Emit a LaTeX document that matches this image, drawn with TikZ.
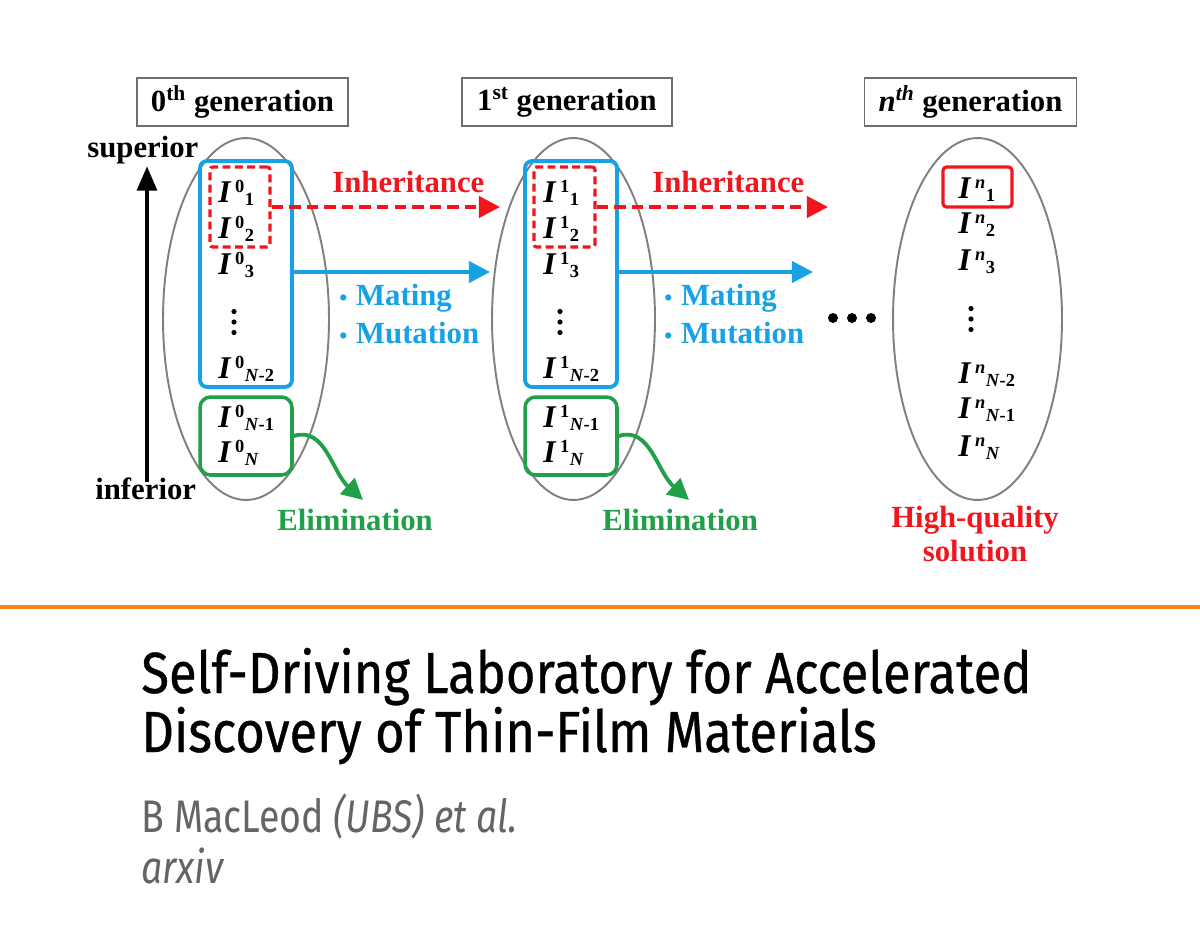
\documentclass[tikz,border=0pt]{standalone}
\usepackage{fontspec}
\setmainfont{Liberation Serif}
\newfontfamily\titlefont[FakeStretch=0.875,FakeBold=0.6]{Fira Sans}
\newfontfamily\authfont[FakeStretch=0.82]{Fira Sans}
\usetikzlibrary{arrows.meta,shapes.geometric}
\definecolor{gblue}{RGB}{22,162,228}
\definecolor{gred}{RGB}{240,22,30}
\definecolor{ggreen}{RGB}{32,160,72}
\definecolor{ggray}{RGB}{128,128,128}
\definecolor{lgray}{RGB}{110,110,110}
\definecolor{orng}{RGB}{245,132,30}
\definecolor{authgray}{RGB}{100,100,100}
\newcommand{\Ind}[2]{\textbf{\textit{I}}\kern2pt\raisebox{5.5pt}{\fontsize{10.5}{11}\selectfont\bfseries #1}\kern0.3pt\raisebox{-2.2pt}{\fontsize{10.5}{11}\selectfont\bfseries #2}}
\newcommand{\blt}{{\fontsize{13}{13}\selectfont•}\hspace{5pt}}
\tikzset{
  gen/.style={draw=lgray, line width=0.9pt, inner sep=0pt, minimum height=0.96cm, font=\fontsize{17.5}{20}\selectfont\bfseries},
  popul/.style={draw=ggray, line width=1.1pt, ellipse, inner sep=0pt, minimum height=7.24cm},
  bluebox/.style={draw=gblue, line width=2.2pt, rounded corners=4pt, minimum width=1.84cm, minimum height=4.52cm, inner sep=0pt},
  greenbox/.style={draw=ggreen, line width=2pt, rounded corners=6pt, minimum width=1.84cm, minimum height=1.56cm, inner sep=0pt},
  redbox/.style={draw=gred, line width=1.8pt, dash pattern=on 4.5pt off 2.5pt, rounded corners=1.5pt, minimum height=1.6cm, inner sep=0pt},
  entry/.style={anchor=base west, inner sep=0pt, font=\fontsize{18}{20}\selectfont},
  lbl/.style={anchor=base west, inner sep=0pt, font=\fontsize{17.5}{20}\selectfont\bfseries},
  redarrow/.style={draw=gred, line width=2.2pt, dash pattern=on 6.5pt off 3.5pt, -{Triangle[length=12pt,width=12pt,fill=gred]}},
  bluearrow/.style={draw=gblue, line width=2.2pt, -{Triangle[length=12pt,width=12pt]}},
  greenarrow/.style={draw=ggreen, line width=2.2pt, -{Triangle[length=12pt,width=12pt]}},
}
\newcommand{\vdotsat}[2]{\fill (#1,#2-10.5) circle (2.6); \fill (#1,#2) circle (2.6); \fill (#1,#2+10.5) circle (2.6);}
\begin{document}
\begin{tikzpicture}[x=0.02cm,y=-0.02cm]
\useasboundingbox[fill=white] (0,0) rectangle (1200,937);

% generation labels
\node[gen, minimum width=4.22cm] (g0) at (242.5,102) {0\textsuperscript{th} generation};
\node[gen, minimum width=4.2cm] (g1) at (567,102) {1\textsuperscript{st} generation};
\node[gen, minimum width=4.24cm] (gn) at (970.5,102) {\textit{n}\textsuperscript{\textit{th}} generation};

% superior / inferior
\node[lbl] (sup) at (87,157) {superior};
\node[lbl] (inf) at (95,499) {inferior};
\coordinate (abot) at (147,482);
\coordinate (atop) at (147,166);
\draw[line width=2.8pt, -{Triangle[length=14pt,width=11pt]}] (abot) -- (atop);

% populations
\node[popul, minimum width=3.32cm] (e0) at (246,319) {};
\node[popul, minimum width=3.26cm] (e1) at (573.5,319) {};
\node[popul, minimum width=3.38cm] (en) at (977.5,319) {};

% boxes gen 0
\node[bluebox] (b0) at (246,274) {};
\node[greenbox] (gr0) at (246,436) {};
\node[redbox, minimum width=1.2cm] (r0) at (240,207) {};
% boxes gen 1
\node[bluebox] (b1) at (571,274) {};
\node[greenbox] (gr1) at (571,436) {};
\node[redbox, minimum width=1.22cm] (r1) at (564.5,207) {};
% best gen n
\node[draw=gred, line width=1.8pt, rounded corners=2pt, minimum width=1.38cm, minimum height=0.8cm, inner sep=0pt] (rn) at (977.5,187) {};

% entries gen 0
\node[entry] (i01) at (218,202) {\Ind{0}{1}};
\node[entry] (i02) at (218,238) {\Ind{0}{2}};
\node[entry] (i03) at (218,274) {\Ind{0}{3}};
\vdotsat{234}{322}
\node[entry] (i0a) at (218,378) {\Ind{0}{\textit{N}-2}};
\node[entry] (i0b) at (218,427) {\Ind{0}{\textit{N}-1}};
\node[entry] (i0c) at (218,462) {\Ind{0}{\textit{N}}};
% entries gen 1
\node[entry] (i11) at (543,202) {\Ind{1}{1}};
\node[entry] (i12) at (543,238) {\Ind{1}{2}};
\node[entry] (i13) at (543,274) {\Ind{1}{3}};
\vdotsat{560}{322}
\node[entry] (i1a) at (543,378) {\Ind{1}{\textit{N}-2}};
\node[entry] (i1b) at (543,427) {\Ind{1}{\textit{N}-1}};
\node[entry] (i1c) at (543,462) {\Ind{1}{\textit{N}}};
% entries gen n
\node[entry] (in1) at (958,198) {\Ind{\textit{n}}{1}};
\node[entry] (in2) at (958,233) {\Ind{\textit{n}}{2}};
\node[entry] (in3) at (958,270) {\Ind{\textit{n}}{3}};
\vdotsat{971}{319}
\node[entry] (ina) at (958,383) {\Ind{\textit{n}}{\textit{N}-2}};
\node[entry] (inb) at (958,418) {\Ind{\textit{n}}{\textit{N}-1}};
\node[entry] (inc) at (958,456) {\Ind{\textit{n}}{\textit{N}}};

% arrows gen 0 -> 1
\coordinate (t0r) at (500,207);
\coordinate (t0b) at (490,272);
\coordinate (t0g) at (363,500);
\draw[redarrow] (r0.east) -- (t0r);
\draw[bluearrow] (b0.east |- t0b) -- (t0b);
\draw[greenarrow] (gr0.east) .. controls (325,426) and (332,472) .. (t0g);
\node[lbl, text=gred] (inh0) at (332,192) {Inheritance};
\node[lbl, text=gblue] (mat0) at (339,305) {\blt Mating};
\node[lbl, text=gblue] (mut0) at (339,343) {\blt Mutation};
\node[lbl, text=ggreen] (el0) at (277,530) {Elimination};

% arrows gen 1 -> ...
\coordinate (t1r) at (828,207);
\coordinate (t1b) at (813,272);
\coordinate (t1g) at (689,500);
\draw[redarrow] (r1.east) -- (t1r);
\draw[bluearrow] (b1.east |- t1b) -- (t1b);
\draw[greenarrow] (gr1.east) .. controls (650,426) and (657,472) .. (t1g);
\node[lbl, text=gred] (inh1) at (652,192) {Inheritance};
\node[lbl, text=gblue] (mat1) at (664,305) {\blt Mating};
\node[lbl, text=gblue] (mut1) at (664,343) {\blt Mutation};
\node[lbl, text=ggreen] (el1) at (602,530) {Elimination};

% dots
\fill (833,318) circle (5);
\fill (852,318) circle (5);
\fill (871,318) circle (5);

% high quality
\node[inner sep=0pt, align=center, text=gred, font=\fontsize{17.5}{20}\selectfont\bfseries, anchor=north] (hq) at (975,506) {High-quality\\[-0.5pt]solution};

% separator
\draw[orng, line width=2.4pt] (0,607) -- (1200,607);

% title and credits
\node[anchor=base west, inner sep=0pt, font=\titlefont\fontsize{33}{33}\selectfont] (t1) at (141,693) {Self-Driving Laboratory for Accelerated};
\node[anchor=base west, inner sep=0pt, font=\titlefont\fontsize{33}{33}\selectfont] (t2) at (141,752) {Discovery of Thin-Film Materials};
\node[anchor=base west, inner sep=0pt, text=authgray, font=\authfont\fontsize{26}{26}\selectfont] (au) at (141,832) {B MacLeod \textit{(UBS)} \textit{et al.}};
\node[anchor=base west, inner sep=0pt, text=authgray, font=\authfont\fontsize{26}{26}\selectfont] (ax) at (141,883) {\textit{arxiv}};
\end{tikzpicture}
\end{document}
